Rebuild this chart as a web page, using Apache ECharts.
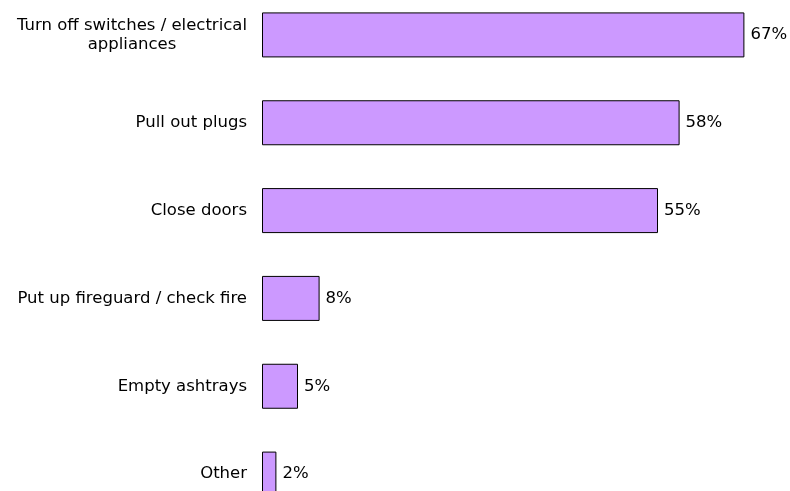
<!DOCTYPE html>
<html>
<head>
<meta charset="utf-8">
<title>Fire safety precautions</title>
<script src="https://cdn.jsdelivr.net/npm/echarts@6/dist/echarts.min.js"></script>
<style>
  html, body { margin: 0; padding: 0; background: #ffffff; overflow: hidden; width: 790px; height: 491px; }
  /* the plot runs a little past the top and bottom edges of the page */
  #chart { position: absolute; left: 0; top: -9.4px; width: 790px; height: 527px; }
</style>
</head>
<body>
<div id="chart"></div>
<script>
// Precautions taken before going to bed (share of respondents, %)
var categories = [
  'Turn off switches / electrical\nappliances',
  'Pull out plugs',
  'Close doors',
  'Put up fireguard / check fire',
  'Empty ashtrays',
  'Other'
];
var shares = [67, 58, 55, 8, 5, 2];

var FONT = '"DejaVu Sans", "Liberation Sans", Arial, sans-serif';

var chart = echarts.init(document.getElementById('chart'), null, { renderer: 'canvas' });

chart.setOption({
  animation: false,
  backgroundColor: '#ffffff',
  grid: {
    left: 262,
    top: 0,
    width: 504,
    height: 527,
    containLabel: false
  },
  xAxis: {
    type: 'value',
    min: 0,
    max: 70,
    show: false
  },
  yAxis: {
    type: 'category',
    data: categories,
    inverse: true,
    axisLine: { show: false },
    axisTick: { show: false },
    splitLine: { show: false },
    axisLabel: {
      margin: 15,
      formatter: function (v) {
        return v.split('\n').map(function (l) { return '{c|' + l + '}'; }).join('\n');
      },
      rich: {
        c: {
          align: 'center',
          fontFamily: FONT,
          fontSize: 16.5,
          lineHeight: 19,
          color: '#000000'
        }
      }
    }
  },
  series: [{
    type: 'bar',
    data: shares,
    barWidth: 45,
    itemStyle: {
      color: '#CC99FF',
      borderColor: '#000000',
      borderWidth: 1
    },
    label: {
      show: true,
      position: 'right',
      distance: 6,
      formatter: '{c}%',
      fontFamily: FONT,
      fontSize: 16.5,
      color: '#000000'
    }
  }]
});
</script>
</body>
</html>
